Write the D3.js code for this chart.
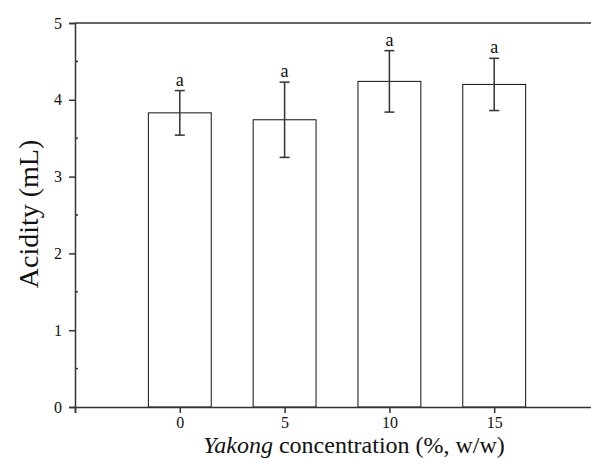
<!DOCTYPE html>
<html>
<head>
<meta charset="utf-8">
<script src="https://cdn.jsdelivr.net/npm/d3@7"></script>
<style>
  body { margin: 0; background: #fff; }
  text { font-family: "Liberation Serif", "Times New Roman", serif; }
</style>
</head>
<body>
<div id="chart"></div>
<script>
// 데이터
const concentrations = [0, 5, 10, 15];
const acidity = [3.83, 3.74, 4.24, 4.20];
const errors = [0.29, 0.49, 0.40, 0.34];
const letters = ["a", "a", "a", "a"];
const yTicks = [0, 1, 2, 3, 4, 5];
const xTicks = [-5, 0, 5, 10, 15];
const xLabels = ["", "0", "5", "10", "15"];

const W = 591, H = 458;
const margin = { top: 23, right: -8, bottom: 51, left: 75 };
const width = W - margin.left - margin.right;
const height = H - margin.top - margin.bottom;
const axisColor = "#333";

const svg = d3.select("#chart").append("svg")
    .attr("width", W)
    .attr("height", H)
    .append("g")
    .attr("transform", `translate(${margin.left},${margin.top})`);

const x = d3.scaleLinear().domain([-5, 20]).range([0, width]);
const y = d3.scaleLinear().domain([0, 5]).range([height, 0]);

// 막대
const barW = x(1.5) - x(-1.5);
svg.selectAll(".bar")
    .data(concentrations)
    .enter().append("rect")
    .attr("class", "bar")
    .attr("x", d => x(d) - barW / 2)
    .attr("width", barW)
    .attr("y", (d, i) => y(acidity[i]))
    .attr("height", (d, i) => height - y(acidity[i]))
    .attr("fill", "#fff")
    .attr("stroke", "#111")
    .attr("stroke-width", 1);

// 오차 막대
const cap = 5;
const eb = svg.selectAll(".err")
    .data(concentrations)
    .enter().append("g")
    .attr("class", "err")
    .attr("stroke", axisColor)
    .attr("stroke-width", 1.5);
eb.append("line")
    .attr("x1", d => x(d)).attr("x2", d => x(d))
    .attr("y1", (d, i) => y(acidity[i] + errors[i]))
    .attr("y2", (d, i) => y(acidity[i] - errors[i]));
eb.append("line")
    .attr("x1", d => x(d) - cap).attr("x2", d => x(d) + cap)
    .attr("y1", (d, i) => y(acidity[i] + errors[i]))
    .attr("y2", (d, i) => y(acidity[i] + errors[i]));
eb.append("line")
    .attr("x1", d => x(d) - cap).attr("x2", d => x(d) + cap)
    .attr("y1", (d, i) => y(acidity[i] - errors[i]))
    .attr("y2", (d, i) => y(acidity[i] - errors[i]));

// 유의성 문자
svg.selectAll(".sig")
    .data(concentrations)
    .enter().append("text")
    .attr("class", "sig")
    .attr("x", d => x(d))
    .attr("y", (d, i) => y(acidity[i] + errors[i]) - 5)
    .attr("text-anchor", "middle")
    .attr("font-size", "18px")
    .attr("fill", "#111")
    .text((d, i) => letters[i]);

// 위쪽 테두리
svg.append("line")
    .attr("x1", 0).attr("x2", width)
    .attr("y1", 0).attr("y2", 0)
    .attr("stroke", axisColor).attr("stroke-width", 1.5);

// x 축
const xAxis = svg.append("g")
    .attr("transform", `translate(0,${height})`)
    .call(d3.axisBottom(x).tickValues(xTicks).tickSize(6).tickPadding(4)
        .tickFormat((d, i) => xLabels[i]));
xAxis.select(".domain").attr("stroke", axisColor).attr("stroke-width", 1.5);
xAxis.selectAll(".tick line").attr("stroke", axisColor).attr("stroke-width", 1.5);
xAxis.selectAll("text").attr("font-size", "16px").attr("fill", "#111")
    .style("font-family", "Liberation Serif");

// y 축
const yAxis = svg.append("g")
    .call(d3.axisLeft(y).tickValues(yTicks).tickSize(6).tickPadding(7)
        .tickFormat(d3.format("d")));
yAxis.select(".domain").attr("stroke", axisColor).attr("stroke-width", 1.5);
yAxis.selectAll(".tick line").attr("stroke", axisColor).attr("stroke-width", 1.5);
yAxis.selectAll("text").attr("font-size", "16px").attr("fill", "#111")
    .style("font-family", "Liberation Serif");

// 보조 눈금 (안쪽)
svg.selectAll(".minor")
    .data(d3.range(0.5, 5, 1))
    .enter().append("line")
    .attr("class", "minor")
    .attr("x1", 0).attr("x2", 3)
    .attr("y1", d => y(d)).attr("y2", d => y(d))
    .attr("stroke", axisColor).attr("stroke-width", 1.5);

// 축 제목
svg.append("text")
    .attr("transform", `translate(${38 - margin.left},${214 - margin.top}) rotate(-90)`)
    .attr("text-anchor", "middle")
    .attr("font-size", "28px")
    .attr("fill", "#111")
    .text("Acidity (mL)");

const xl = svg.append("text")
    .attr("x", 354 - margin.left)
    .attr("y", 453 - margin.top)
    .attr("text-anchor", "middle")
    .attr("font-size", "24px")
    .attr("fill", "#111");
xl.append("tspan").attr("font-style", "italic").text("Yakong");
xl.append("tspan").text(" concentration (%, w/w)");
</script>
</body>
</html>
